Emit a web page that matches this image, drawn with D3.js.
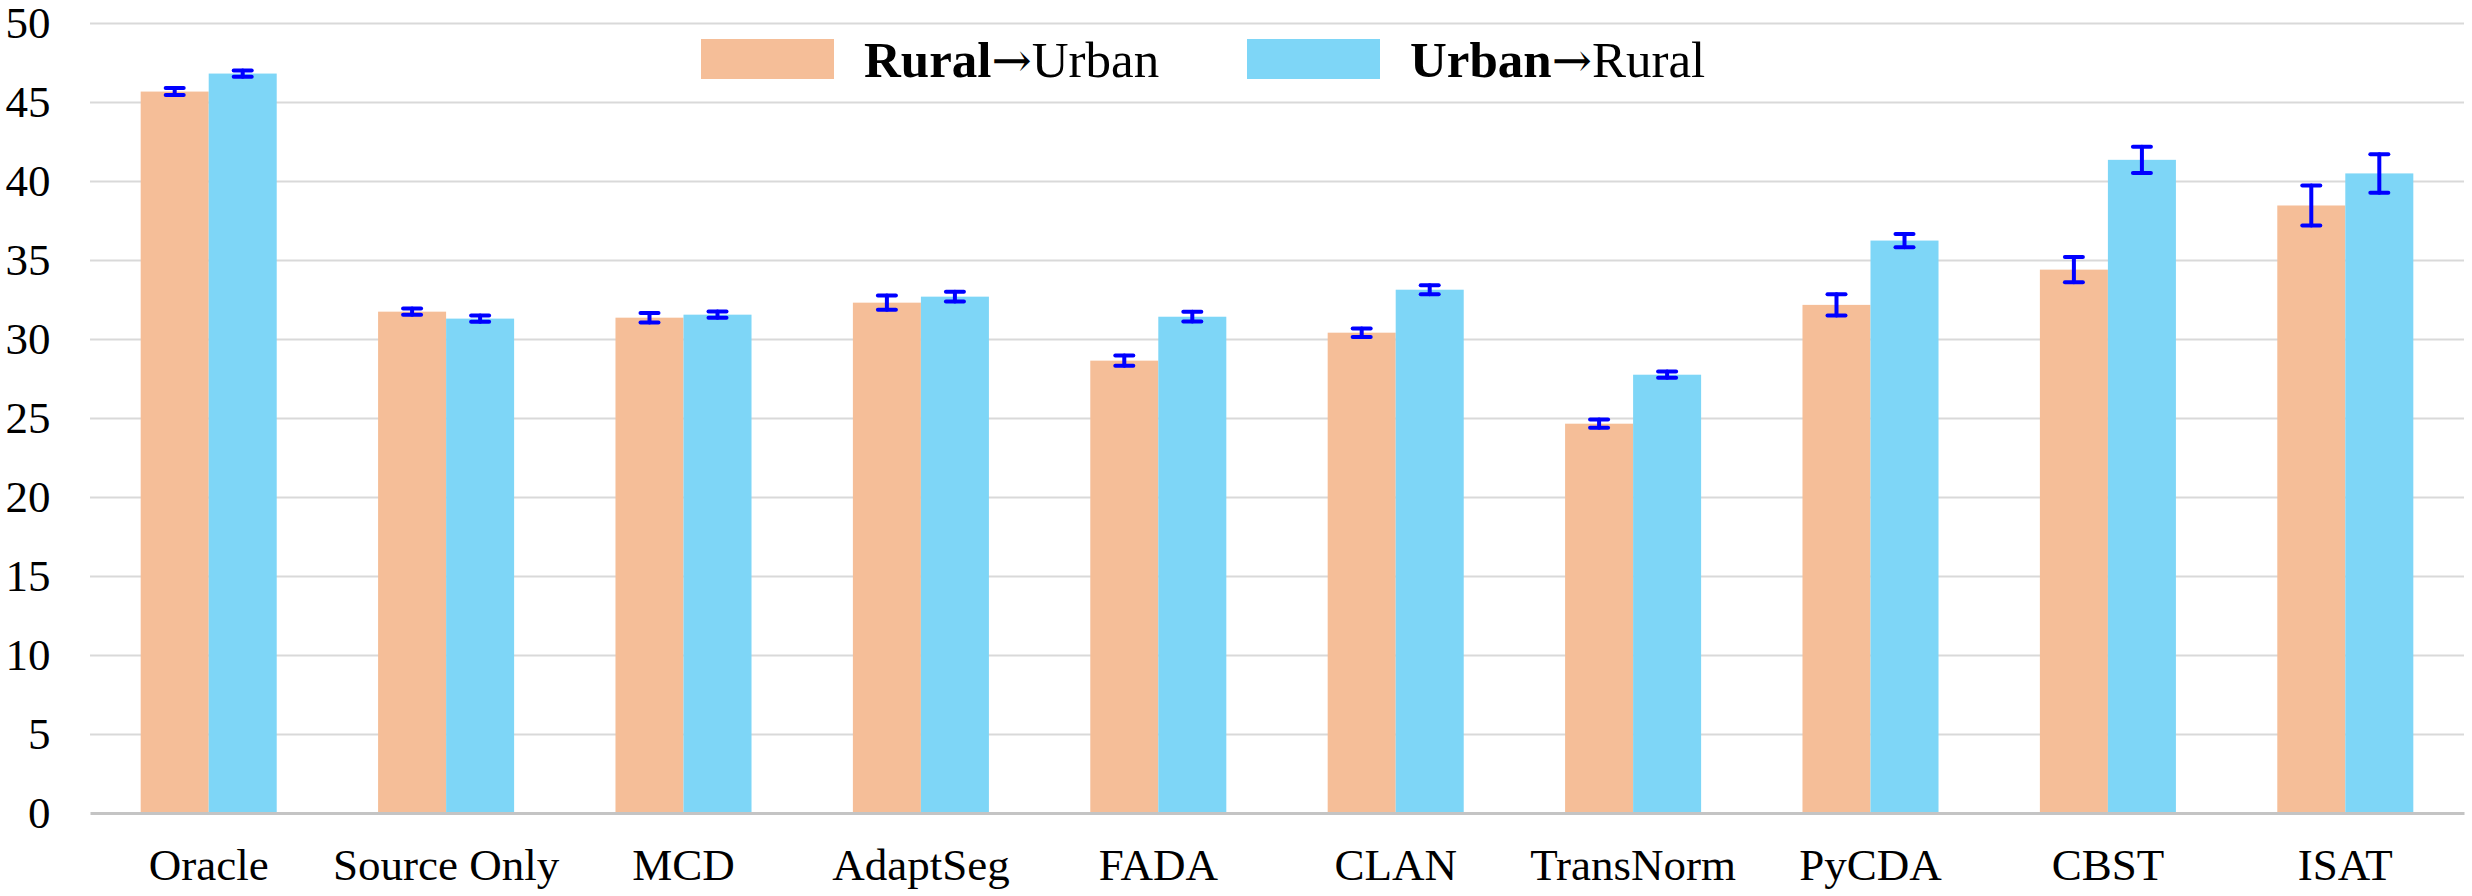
<!DOCTYPE html>
<html>
<head>
<meta charset="utf-8">
<script src="https://cdn.jsdelivr.net/npm/d3@7"></script>
<style>
	html, body { margin: 0; padding: 0; background: #fff; }
	svg { display: block; }
</style>
</head>
<body>
<div id="chart"></div>
<script>

var categories = [ 'Oracle', 'Source Only', 'MCD', 'AdaptSeg', 'FADA', 'CLAN', 'TransNorm', 'PyCDA', 'CBST', 'ISAT' ];

var ruralToUrban = [ 45.66, 31.73, 31.35, 32.3, 28.63, 30.4, 24.64, 32.16, 34.39, 38.45 ];
var ruralToUrbanErr = [ 0.22, 0.2, 0.3, 0.45, 0.33, 0.27, 0.26, 0.67, 0.8, 1.27 ];

var urbanToRural = [ 46.8, 31.29, 31.54, 32.68, 31.41, 33.12, 27.74, 36.23, 41.34, 40.48 ];
var urbanToRuralErr = [ 0.2, 0.2, 0.2, 0.31, 0.31, 0.28, 0.2, 0.42, 0.83, 1.22 ];

var yTicks = [ 0, 5, 10, 15, 20, 25, 30, 35, 40, 45, 50 ];

var seriesKeys = [ 'ru', 'ur' ];
var seriesColors = [ '#f5be98', '#7ed6f7' ];

var serif = '"Liberation Serif", "Times New Roman", serif';

var chart = {
	width: 2472,
	height: 896,
	padding: { top: 23, right: 8, bottom: 83, left: 90 }
};

chart.cwidth = chart.width - chart.padding.left - chart.padding.right;
chart.cheight = chart.height - chart.padding.top - chart.padding.bottom;

// one row per category, built from the arrays above
var rows = categories.map( function ( c, i ) {
	return {
		name: c,
		bars: [
			{ key: 'ru', value: ruralToUrban[i], err: ruralToUrbanErr[i] },
			{ key: 'ur', value: urbanToRural[i], err: urbanToRuralErr[i] }
		]
	};
} );

var x0 = d3.scaleBand()
	.domain( categories )
	.range( [ 0, chart.cwidth ] )
	.paddingInner( 0.427 )
	.paddingOuter( 0.2135 );

var x1 = d3.scaleBand()
	.domain( seriesKeys )
	.range( [ 0, x0.bandwidth() ] );

var y = d3.scaleLinear()
	.domain( [ 0, 50 ] )
	.range( [ chart.cheight, 0 ] );

var color = d3.scaleOrdinal()
	.domain( seriesKeys )
	.range( seriesColors );

var svg = d3.select( '#chart' ).append( 'svg' )
	.attr( 'width', chart.width )
	.attr( 'height', chart.height )
	.attr( 'font-family', serif );

var guts = svg.append( 'g' )
	.attr( 'transform', 'translate(' + chart.padding.left + ',' + chart.padding.top + ')' );

// gridlines + y labels
var yAxis = d3.axisLeft( y )
	.tickValues( yTicks )
	.tickSize( -chart.cwidth )
	.tickPadding( 39.5 );

var yAxisEl = guts.append( 'g' ).call( yAxis )
	.attr( 'font-family', serif )
	.attr( 'font-size', 45 );
yAxisEl.select( '.domain' ).remove();
yAxisEl.selectAll( '.tick line' )
	.attr( 'stroke', '#d9d9d9' )
	.attr( 'stroke-width', 2 );
yAxisEl.selectAll( '.tick text' )
	.attr( 'dy', '0.33em' )
	.attr( 'fill', '#000' );
yAxisEl.selectAll( '.tick' ).filter( function ( d ) { return d === 0; } ).select( 'line' ).remove();

// bars
var groups = guts.append( 'g' ).selectAll( 'g' )
	.data( rows )
	.join( 'g' )
	.attr( 'transform', function ( d ) { return 'translate(' + x0( d.name ) + ',0)'; } );

groups.selectAll( 'rect' )
	.data( function ( d ) { return d.bars; } )
	.join( 'rect' )
	.attr( 'x', function ( d ) { return x1( d.key ); } )
	.attr( 'y', function ( d ) { return y( d.value ); } )
	.attr( 'width', x1.bandwidth() )
	.attr( 'height', function ( d ) { return y( 0 ) - y( d.value ); } )
	.attr( 'fill', function ( d ) { return color( d.key ); } );

// x axis, the domain path is the zero line
var xAxis = d3.axisBottom( x0 )
	.tickSize( 0 )
	.tickSizeOuter( 0 )
	.tickPadding( 35 );

var xAxisEl = guts.append( 'g' )
	.attr( 'transform', 'translate(0,' + chart.cheight + ')' )
	.call( xAxis )
	.attr( 'font-family', serif )
	.attr( 'font-size', 45 );
xAxisEl.select( '.domain' )
	.attr( 'stroke', '#c4c4c4' )
	.attr( 'stroke-width', 3 );
xAxisEl.selectAll( '.tick text' )
	.attr( 'fill', '#000' );

// error bars
var capHalf = 9;
var errs = groups.selectAll( 'g.err' )
	.data( function ( d ) { return d.bars; } )
	.join( 'g' )
	.attr( 'class', 'err' )
	.attr( 'stroke', '#0000ff' )
	.attr( 'stroke-width', 4 )
	.attr( 'stroke-linecap', 'round' );

errs.append( 'line' )
	.attr( 'x1', function ( d ) { return x1( d.key ) + x1.bandwidth() / 2; } )
	.attr( 'x2', function ( d ) { return x1( d.key ) + x1.bandwidth() / 2; } )
	.attr( 'y1', function ( d ) { return y( d.value + d.err ); } )
	.attr( 'y2', function ( d ) { return y( d.value - d.err ); } );

[ 1, -1 ].forEach( function ( s ) {
	errs.append( 'line' )
		.attr( 'x1', function ( d ) { return x1( d.key ) + x1.bandwidth() / 2 - capHalf; } )
		.attr( 'x2', function ( d ) { return x1( d.key ) + x1.bandwidth() / 2 + capHalf; } )
		.attr( 'y1', function ( d ) { return y( d.value + s * d.err ); } )
		.attr( 'y2', function ( d ) { return y( d.value + s * d.err ); } );
} );

// legend
var legendItems = [
	{ key: 'ru', bold: 'Rural', rest: 'Urban', x: 701 },
	{ key: 'ur', bold: 'Urban', rest: 'Rural', x: 1247 }
];

var legend = svg.append( 'g' ).selectAll( 'g' )
	.data( legendItems )
	.join( 'g' )
	.attr( 'transform', function ( d ) { return 'translate(' + d.x + ',39)'; } );

legend.append( 'rect' )
	.attr( 'width', 133 )
	.attr( 'height', 40 )
	.attr( 'fill', function ( d ) { return color( d.key ); } );

var legendText = legend.append( 'text' )
	.attr( 'x', 163 )
	.attr( 'y', 38 )
	.attr( 'fill', '#000' )
	.style( 'font-size', '51px' );

legendText.append( 'tspan' )
	.style( 'font-weight', 'bold' )
	.text( function ( d ) { return d.bold; } );

legendText.append( 'tspan' )
	.style( 'font-family', '"DejaVu Serif", serif' )
	.style( 'font-size', '48px' )
	.text( '\u2192' );

legendText.append( 'tspan' )
	.text( function ( d ) { return d.rest; } );

</script>
</body>
</html>
